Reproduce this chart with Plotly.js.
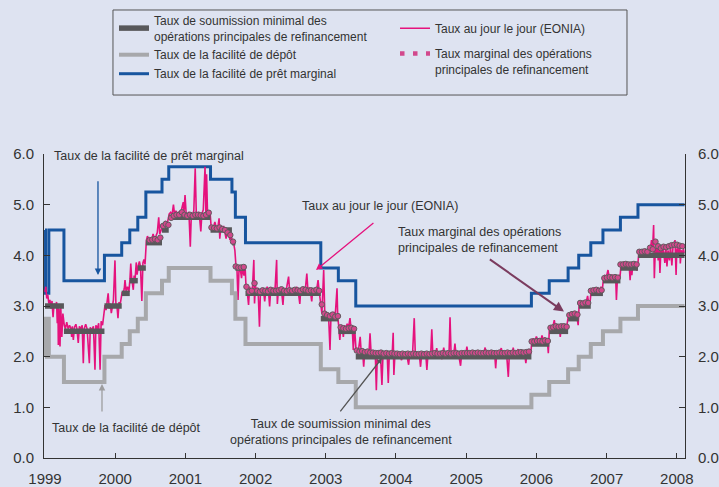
<!DOCTYPE html>
<html><head><meta charset="utf-8">
<script src="https://cdn.plot.ly/plotly-3.0.1.min.js"></script>
<style>html,body{margin:0;padding:0;background:#dee3f1;} #chart{width:719px;height:487px;}</style>
</head><body><div id="chart"></div>
<script>
// Key ECB rates: change dates (decimal years) and levels (last entry = end of sample)
const keyDates = [1999.000,1999.008,1999.055,1999.270,1999.847,2000.093,2000.208,2000.322,2000.437,2000.667,2000.763,2001.358,2001.663,2001.712,2001.856,2002.929,2003.179,2003.427,2005.929,2006.183,2006.452,2006.603,2006.775,2006.948,2007.197,2007.447,2008.110];
const depositRate = [2.00,2.75,2.00,1.50,2.00,2.25,2.50,2.75,3.25,3.50,3.75,3.50,3.25,2.75,2.25,1.75,1.50,1.00,1.25,1.50,1.75,2.00,2.25,2.50,2.75,3.00,3.00];
const lendingRate = [4.50,3.25,4.50,3.50,4.00,4.25,4.50,4.75,5.25,5.50,5.75,5.50,5.25,4.75,4.25,3.75,3.50,3.00,3.25,3.50,3.75,4.00,4.25,4.50,4.75,5.00,5.00];
const mroRate = [3.00,3.00,3.00,2.50,3.00,3.25,3.50,3.75,4.25,4.50,4.75,4.50,4.25,3.75,3.25,2.75,2.50,2.00,2.25,2.50,2.75,3.00,3.25,3.50,3.75,4.00,4.00];

// Marginal rate of main refinancing operations: bi-weekly from 28 June 2000
const margStart = 2000.490;
const margStep = 14 / 365.25;
const margRate = [
 4.30,4.31,4.32,4.30,4.35,
 4.58,4.62,4.60,
 4.74,4.78,4.80,4.80,4.85,4.80,4.78,4.80,4.78,4.80,4.80,4.79,4.78,4.80,4.84,
 4.55,4.54,4.53,4.55,4.52,4.50,4.45,4.40,
 4.27,
 3.78,3.76,3.76,3.77,
 3.38,3.28,3.30,3.45,3.30,3.28,3.31,3.30,3.29,3.32,3.30,3.30,3.31,3.33,3.30,3.29,3.31,3.30,3.32,3.31,3.30,3.33,3.32,3.30,3.31,3.30,3.32,3.30,
 3.03,2.85,2.82,2.80,2.83,2.79,2.80,
 2.58,2.56,2.55,2.56,2.57,2.55,
 2.12,2.10,2.11,2.09,2.10,2.08,2.08,2.07,2.07,2.08,2.06,2.07,2.06,2.07,2.06,
 2.06,2.05,2.06,2.05,2.06,2.05,2.06,2.05,2.05,2.06,2.05,2.06,2.05,2.06,2.07,2.06,2.06,2.07,2.06,2.07,2.06,2.07,2.07,2.06,2.07,2.07,
 2.07,2.07,2.08,2.07,2.08,2.07,2.07,2.08,2.07,2.08,2.07,2.07,2.08,2.07,2.07,2.08,2.07,2.08,2.07,2.08,2.09,2.08,2.09,2.10,
 2.30,2.30,2.31,2.31,2.30,2.32,2.31,
 2.57,2.58,2.60,2.59,2.60,2.60,2.59,
 2.82,2.84,2.85,2.83,
 3.06,3.05,3.07,3.06,
 3.30,3.31,3.32,3.30,3.31,
 3.55,3.56,3.57,3.56,3.57,3.56,
 3.82,3.82,3.83,3.82,3.82,3.83,3.82,
 4.07,4.07,4.08,4.07,4.15,4.12,4.27,4.18,4.14,4.17,4.16,4.18,4.20,4.21,4.21,4.19,4.18
];

// EONIA (overnight rate), [decimal year, %]
const eonia1999 = [[1999.000,3.28],[1999.012,3.38],[1999.025,3.15],[1999.040,3.22],[1999.055,3.05],[1999.070,3.12],[1999.085,2.95],[1999.100,3.10],[1999.115,2.78],[1999.130,3.05],[1999.150,2.98],[1999.165,3.08],[1999.175,2.66],[1999.185,3.00],[1999.190,2.23],[1999.200,2.95],[1999.214,2.20],[1999.225,2.98],[1999.240,2.39],[1999.255,2.85],[1999.275,2.62],[1999.290,2.55],[1999.310,2.68],[1999.330,2.55],[1999.350,2.62],[1999.370,2.55],[1999.380,2.39],[1999.390,2.60],[1999.404,2.33],[1999.420,2.58],[1999.440,2.64],[1999.455,2.55],[1999.474,2.27],[1999.490,2.60],[1999.510,2.55],[1999.530,2.62],[1999.546,1.87],[1999.560,2.56],[1999.580,2.64],[1999.600,2.55],[1999.632,1.87],[1999.645,2.58],[1999.665,2.52],[1999.690,2.60],[1999.712,1.74],[1999.725,2.62],[1999.745,2.55],[1999.765,2.66],[1999.785,1.74],[1999.800,2.70],[1999.820,2.62],[1999.840,2.80],[1999.855,3.02],[1999.870,2.92],[1999.885,3.05],[1999.900,3.25],[1999.915,2.95],[1999.930,3.05],[1999.945,2.86],[1999.960,3.02],[1999.975,3.12],[1999.997,3.90]];
const eonia2000 = [[2000.010,3.05],[2000.025,3.00],[2000.040,2.76],[2000.055,3.08],[2000.070,3.02],[2000.085,3.15],[2000.100,3.28],[2000.115,3.25],[2000.130,3.35],[2000.140,3.51],[2000.155,3.30],[2000.175,3.38],[2000.195,3.28],[2000.210,3.52],[2000.222,3.84],[2000.235,3.55],[2000.258,3.32],[2000.270,3.60],[2000.285,3.55],[2000.300,3.86],[2000.312,3.62],[2000.330,3.80],[2000.345,3.88],[2000.360,3.78],[2000.380,3.10],[2000.395,3.85],[2000.410,3.92],[2000.425,3.82],[2000.445,4.30],[2000.460,4.38],[2000.480,4.28],[2000.500,4.35],[2000.520,4.30],[2000.540,4.42],[2000.560,4.33],[2000.580,4.38],[2000.600,4.45],[2000.620,4.75],[2000.635,4.42],[2000.655,4.50],[2000.675,4.60],[2000.695,4.55],[2000.715,4.68],[2000.735,4.58],[2000.750,4.70],[2000.770,4.82],[2000.790,4.85],[2000.810,4.80],[2000.830,5.00],[2000.845,4.82],[2000.865,4.88],[2000.885,4.80],[2000.905,4.86],[2000.925,4.82],[2000.945,4.90],[2000.970,5.05],[2000.980,4.85],[2000.995,5.19]];
const eonia2001 = [[2001.010,4.85],[2001.030,4.80],[2001.050,4.86],[2001.070,4.17],[2001.085,4.82],[2001.100,4.78],[2001.120,4.88],[2001.140,5.72],[2001.155,4.85],[2001.175,4.80],[2001.195,4.86],[2001.220,4.47],[2001.235,4.82],[2001.255,4.90],[2001.280,5.75],[2001.292,4.80],[2001.302,5.60],[2001.315,4.85],[2001.335,4.78],[2001.350,4.88],[2001.365,4.60],[2001.385,4.52],[2001.405,4.58],[2001.420,4.66],[2001.440,4.55],[2001.460,4.52],[2001.480,4.73],[2001.490,4.33],[2001.505,4.55],[2001.525,4.50],[2001.545,4.58],[2001.560,4.48],[2001.580,4.33],[2001.600,4.52],[2001.620,4.45],[2001.635,4.30],[2001.650,4.40],[2001.670,4.28],[2001.690,4.22],[2001.705,4.10],[2001.720,3.80],[2001.735,3.72],[2001.750,3.12],[2001.765,3.78],[2001.785,3.70],[2001.800,3.55],[2001.815,3.75],[2001.835,3.60],[2001.850,3.80],[2001.865,3.35],[2001.880,3.30],[2001.900,3.02],[2001.915,3.38],[2001.935,3.28],[2001.955,3.34],[2001.975,3.91],[2001.985,3.05],[2001.997,3.40]];
const eonia2002 = [[2002.015,3.30],[2002.035,3.36],[2002.055,2.59],[2002.070,3.32],[2002.090,3.28],[2002.110,3.35],[2002.130,3.09],[2002.145,3.30],[2002.165,3.38],[2002.185,3.28],[2002.200,2.99],[2002.215,3.32],[2002.235,3.30],[2002.255,3.36],[2002.275,3.28],[2002.300,3.91],[2002.310,3.04],[2002.325,3.32],[2002.345,3.30],[2002.365,3.36],[2002.390,3.02],[2002.405,3.34],[2002.425,3.30],[2002.445,3.38],[2002.470,3.58],[2002.485,3.30],[2002.505,3.34],[2002.525,3.28],[2002.545,3.36],[2002.565,3.30],[2002.585,3.38],[2002.605,3.32],[2002.630,3.04],[2002.645,3.35],[2002.665,3.30],[2002.685,3.34],[2002.705,3.28],[2002.730,3.64],[2002.745,3.32],[2002.765,3.35],[2002.780,3.30],[2002.800,3.09],[2002.815,3.34],[2002.835,3.30],[2002.855,3.36],[2002.870,3.32],[2002.890,3.51],[2002.905,3.30],[2002.930,2.99],[2002.945,2.85],[2002.970,3.71],[2002.985,2.88],[2003.000,2.82]];
const eonia2003 = [[2003.020,2.86],[2003.040,2.80],[2003.060,2.13],[2003.075,2.85],[2003.095,2.80],[2003.115,2.88],[2003.135,2.82],[2003.160,3.35],[2003.170,2.78],[2003.185,2.60],[2003.200,2.33],[2003.215,2.62],[2003.235,2.58],[2003.250,2.39],[2003.265,2.62],[2003.285,2.56],[2003.305,2.65],[2003.325,2.58],[2003.345,2.76],[2003.360,2.55],[2003.375,2.62],[2003.392,2.13],[2003.410,2.58],[2003.430,2.15],[2003.445,2.08],[2003.465,2.12],[2003.490,2.39],[2003.505,2.08],[2003.525,2.10],[2003.540,1.80],[2003.555,2.10],[2003.575,2.06],[2003.595,2.12],[2003.615,2.05],[2003.630,2.46],[2003.645,2.08],[2003.665,2.10],[2003.685,2.04],[2003.705,2.08],[2003.720,1.34],[2003.735,2.06],[2003.755,2.08],[2003.780,2.02],[2003.800,1.44],[2003.815,2.05],[2003.835,2.10],[2003.855,2.02],[2003.875,2.06],[2003.890,1.48],[2003.905,2.05],[2003.925,2.08],[2003.945,2.02],[2003.960,2.47],[2003.970,1.64],[2003.985,2.05]];
const eonia2004 = [[2004.005,2.06],[2004.025,2.02],[2004.045,2.06],[2004.065,2.00],[2004.080,1.93],[2004.095,2.04],[2004.115,2.02],[2004.135,2.08],[2004.155,2.02],[2004.180,1.84],[2004.195,2.04],[2004.215,2.06],[2004.235,2.02],[2004.260,2.76],[2004.275,2.04],[2004.295,2.02],[2004.315,2.06],[2004.335,2.01],[2004.350,1.80],[2004.365,2.04],[2004.385,2.06],[2004.405,2.02],[2004.425,2.05],[2004.440,1.74],[2004.455,2.04],[2004.475,2.02],[2004.495,2.06],[2004.510,2.54],[2004.525,2.04],[2004.545,2.02],[2004.565,2.06],[2004.580,2.17],[2004.595,2.03],[2004.615,2.06],[2004.635,2.02],[2004.655,1.95],[2004.680,2.18],[2004.695,2.05],[2004.715,2.02],[2004.735,2.06],[2004.755,2.03],[2004.770,2.78],[2004.785,2.05],[2004.805,2.02],[2004.825,2.06],[2004.840,2.26],[2004.855,2.04],[2004.875,2.06],[2004.895,2.02],[2004.920,1.82],[2004.935,2.05],[2004.955,2.07],[2004.975,2.03],[2004.995,2.06]];
const eonia2005 = [[2005.010,2.20],[2005.025,2.06],[2005.045,2.08],[2005.065,2.04],[2005.085,2.07],[2005.105,2.05],[2005.125,1.96],[2005.145,2.07],[2005.165,2.05],[2005.185,2.08],[2005.205,2.05],[2005.225,2.07],[2005.245,2.04],[2005.270,2.18],[2005.285,2.06],[2005.305,2.08],[2005.325,2.05],[2005.345,1.97],[2005.365,2.07],[2005.385,2.05],[2005.405,2.08],[2005.420,1.77],[2005.435,2.07],[2005.455,2.05],[2005.475,2.08],[2005.500,2.17],[2005.515,2.06],[2005.535,2.08],[2005.555,2.05],[2005.575,2.07],[2005.600,1.60],[2005.615,2.06],[2005.635,2.08],[2005.655,2.05],[2005.670,2.18],[2005.685,2.06],[2005.705,2.08],[2005.720,2.05],[2005.740,2.15],[2005.755,2.06],[2005.775,2.08],[2005.795,2.05],[2005.815,2.07],[2005.835,2.04],[2005.850,1.87],[2005.865,2.06],[2005.885,2.08],[2005.905,2.12],[2005.920,2.05],[2005.935,2.30],[2005.955,2.36],[2005.975,2.30]];
const eonia2006 = [[2006.000,2.40],[2006.020,2.32],[2006.040,2.36],[2006.060,2.30],[2006.080,2.42],[2006.100,2.32],[2006.120,2.38],[2006.140,2.30],[2006.155,2.34],[2006.170,2.07],[2006.185,2.55],[2006.200,2.60],[2006.220,2.56],[2006.240,2.62],[2006.255,2.72],[2006.270,2.58],[2006.290,2.63],[2006.310,2.57],[2006.325,2.62],[2006.340,2.39],[2006.355,2.60],[2006.375,2.57],[2006.395,2.63],[2006.415,2.58],[2006.435,2.62],[2006.455,2.80],[2006.475,2.86],[2006.495,2.82],[2006.515,2.88],[2006.535,2.83],[2006.555,2.87],[2006.575,2.82],[2006.595,2.62],[2006.610,3.05],[2006.630,3.08],[2006.650,3.02],[2006.670,3.10],[2006.690,3.05],[2006.710,3.08],[2006.730,3.20],[2006.745,3.04],[2006.765,3.08],[2006.780,3.30],[2006.800,3.34],[2006.820,3.30],[2006.840,3.36],[2006.860,3.31],[2006.880,3.35],[2006.900,3.30],[2006.920,3.38],[2006.940,3.32],[2006.955,3.55],[2006.975,3.60],[2006.995,3.56]];
const eonia2007 = [[2007.020,3.71],[2007.035,3.58],[2007.055,3.55],[2007.075,3.62],[2007.095,3.56],[2007.115,3.60],[2007.130,3.55],[2007.140,3.12],[2007.155,3.58],[2007.175,3.60],[2007.190,3.55],[2007.205,3.80],[2007.225,3.84],[2007.240,3.87],[2007.260,3.80],[2007.280,3.85],[2007.300,3.82],[2007.320,3.86],[2007.335,3.51],[2007.350,3.82],[2007.360,3.61],[2007.375,3.85],[2007.395,3.80],[2007.415,3.86],[2007.430,3.70],[2007.445,3.82],[2007.460,4.06],[2007.480,4.10],[2007.500,4.05],[2007.520,4.12],[2007.540,4.06],[2007.560,4.10],[2007.580,4.05],[2007.600,4.12],[2007.620,4.06],[2007.640,4.30],[2007.655,4.10],[2007.670,4.60],[2007.680,3.55],[2007.695,4.15],[2007.710,4.00],[2007.720,4.30],[2007.735,3.90],[2007.750,4.10],[2007.760,3.65],[2007.775,4.15],[2007.790,3.95],[2007.800,4.20],[2007.815,4.05],[2007.830,3.85],[2007.845,4.15],[2007.860,3.78],[2007.875,4.10],[2007.895,3.90],[2007.910,4.18],[2007.930,3.80],[2007.945,4.15],[2007.960,4.25],[2007.975,4.30],[2007.990,3.61],[2008.000,4.10]];
const eonia2008 = [[2008.015,4.18],[2008.030,3.95],[2008.045,4.15],[2008.050,3.84],[2008.065,4.10],[2008.080,4.02],[2008.095,4.12],[2008.105,4.05]];

const yearTicks = [1999,2000,2001,2002,2003,2004,2005,2006,2007,2008];
const rateTicks = [0,1,2,3,4,5,6];

const names = {
  mro: 'Taux de soumission minimal des<br>opérations principales de refinancement',
  dep: 'Taux de la facilité de dépôt',
  mlf: 'Taux de la facilité de prêt marginal',
  eon: 'Taux au jour le jour (EONIA)',
  marg: 'Taux marginal des opérations<br>principales de refinancement'
};

const C = {blue:'#17559f', lgray:'#a7a8ab', dgray:'#58585a', pink:'#e5127d', dot:'#d2488c', text:'#333333', bg:'#dee3f1'};

// build series
const eon = [].concat(eonia1999,eonia2000,eonia2001,eonia2002,eonia2003,eonia2004,eonia2005,eonia2006,eonia2007,eonia2008);
const eonX = eon.map(p=>p[0]), eonY = eon.map(p=>p[1]);
const mroX = [], mroY = [];
for (let i=0;i<keyDates.length;i++){
  if (i>0 && mroRate[i]!==mroRate[i-1]) { mroX.push(keyDates[i], null); mroY.push(mroRate[i-1], null); }
  mroX.push(keyDates[i]); mroY.push(mroRate[i]);
}
const margX = margRate.map((v,i)=>margStart + i*margStep);

const traces = [
  {x:keyDates, y:depositRate, yaxis:'y2', mode:'lines', line:{shape:'hv', color:C.lgray, width:4}, name:names.dep, legend:'legend', legendrank:2},
  {x:keyDates, y:lendingRate, mode:'lines', line:{shape:'hv', color:C.blue, width:3}, name:names.mlf, legend:'legend', legendrank:3},
  {x:eonX, y:eonY, mode:'lines', line:{color:C.pink, width:1.6}, name:names.eon, legend:'legend2'},
  {x:mroX, y:mroY, mode:'lines', line:{color:C.dgray, width:5.5}, name:names.mro, legend:'legend', legendrank:1, connectgaps:false},
  {x:margX, y:margRate, mode:'markers', marker:{size:5.5, color:C.dot, line:{color:'#615a5e', width:1}}, showlegend:false, name:names.marg},
  {x:[null], y:[null], mode:'lines', line:{color:C.dot, width:4.5, dash:'4.5px,8.5px'}, name:names.marg, legend:'legend3'}
];

const tickFont = {family:'Liberation Sans, Arial, sans-serif', size:15, color:C.text};
const axY = {range:[0,6], tickvals:rateTicks, tickformat:'.1f', ticks:'inside', ticklen:6, tickcolor:'#333', showline:true, linecolor:'#333', linewidth:1, showgrid:false, zeroline:false, tickfont:tickFont, fixedrange:true};

const annFont = {family:'Liberation Sans, Arial, sans-serif', size:12.5, color:C.text};
const annotations = [
  {x:1999.10, y:5.96, xref:'x', yref:'y', text:'Taux de la facilité de prêt marginal', showarrow:false, xanchor:'left', yanchor:'middle', font:annFont},
  {x:1999.755, y:3.61, ax:1999.755, ay:5.49, axref:'x', ayref:'y', xref:'x', yref:'y', text:'', showarrow:true, arrowhead:2, arrowsize:1, arrowwidth:1.3, arrowcolor:C.blue},
  {x:1999.07, y:0.59, xref:'x', yref:'y', text:'Taux de la facilité de dépôt', showarrow:false, xanchor:'left', yanchor:'middle', font:annFont},
  {x:1999.812, y:1.46, ax:1999.812, ay:0.89, axref:'x', ayref:'y', xref:'x', yref:'y', text:'', showarrow:true, arrowhead:2, arrowsize:1, arrowwidth:1.3, arrowcolor:'#9d9d9f'},
  {x:2002.632, y:4.97, xref:'x', yref:'y', text:'Taux au jour le jour (EONIA)', showarrow:false, xanchor:'left', yanchor:'middle', font:annFont},
  {x:2002.86, y:3.71, ax:2003.70, ay:4.66, axref:'x', ayref:'y', xref:'x', yref:'y', text:'', showarrow:true, arrowhead:2, arrowsize:1, arrowwidth:1.3, arrowcolor:C.pink},
  {x:2004.0, y:4.30, xref:'x', yref:'y', text:'Taux marginal des opérations<br>principales de refinancement', showarrow:false, xanchor:'left', yanchor:'middle', align:'left', font:annFont},
  {x:2006.393, y:2.89, ax:2005.316, ay:3.94, axref:'x', ayref:'y', xref:'x', yref:'y', text:'', showarrow:true, arrowhead:2, arrowsize:1, arrowwidth:2, arrowcolor:'#7b3c5f'},
  {x:2003.217, y:0.51, xref:'x', yref:'y', text:'Taux de soumission minimal des<br>opérations principales de refinancement', showarrow:false, xanchor:'center', yanchor:'middle', align:'center', font:annFont},
  {x:2003.80, y:1.97, ax:2003.19, ay:0.89, axref:'x', ayref:'y', xref:'x', yref:'y', text:'', showarrow:true, arrowhead:2, arrowsize:0.8, arrowwidth:1.3, arrowcolor:'#555555'}
];

const legFont = {family:'Liberation Sans, Arial, sans-serif', size:12, color:C.text};
const legBase = {orientation:'v', xanchor:'left', yanchor:'top', borderwidth:0, bgcolor:'rgba(0,0,0,0)', font:legFont, traceorder:'normal'};
const layout = {
  width:719, height:487,
  margin:{l:44, r:34, t:154, b:29, autoexpand:false},
  paper_bgcolor:C.bg, plot_bgcolor:'rgba(0,0,0,0)',
  font:{family:'Liberation Sans, Arial, sans-serif', color:C.text},
  xaxis:{range:[1998.986,2008.117], tickvals:yearTicks, ticktext:yearTicks.map(String), ticks:'inside', ticklen:5, tickcolor:'#333', showline:true, linecolor:'#333', linewidth:1, showgrid:false, zeroline:false, tickfont:tickFont, ticklabelstandoff:7, fixedrange:true, automargin:false},
  yaxis:Object.assign({}, axY, {side:'left', ticklabelstandoff:6, automargin:false}),
  yaxis2:Object.assign({}, axY, {side:'right', overlaying:'y', anchor:'x', ticklabelstandoff:9, automargin:false}),
  showlegend:true,
  legend:Object.assign({}, legBase, {x:0.1092, y:1.4868, valign:'middle'}),
  legend2:Object.assign({}, legBase, {x:0.5476, y:1.4614, valign:'middle'}),
  legend3:Object.assign({}, legBase, {x:0.5476, y:1.3773, valign:'top'}),
  shapes:[{type:'rect', xref:'paper', yref:'paper', x0:0.1076, x1:0.9095, y0:1.194, y1:1.4737, line:{color:'#555555', width:1}, fillcolor:'rgba(0,0,0,0)'}],
  annotations: annotations
};

Plotly.newPlot('chart', traces, layout, {displayModeBar:false, staticPlot:true});
</script>
</body></html>
